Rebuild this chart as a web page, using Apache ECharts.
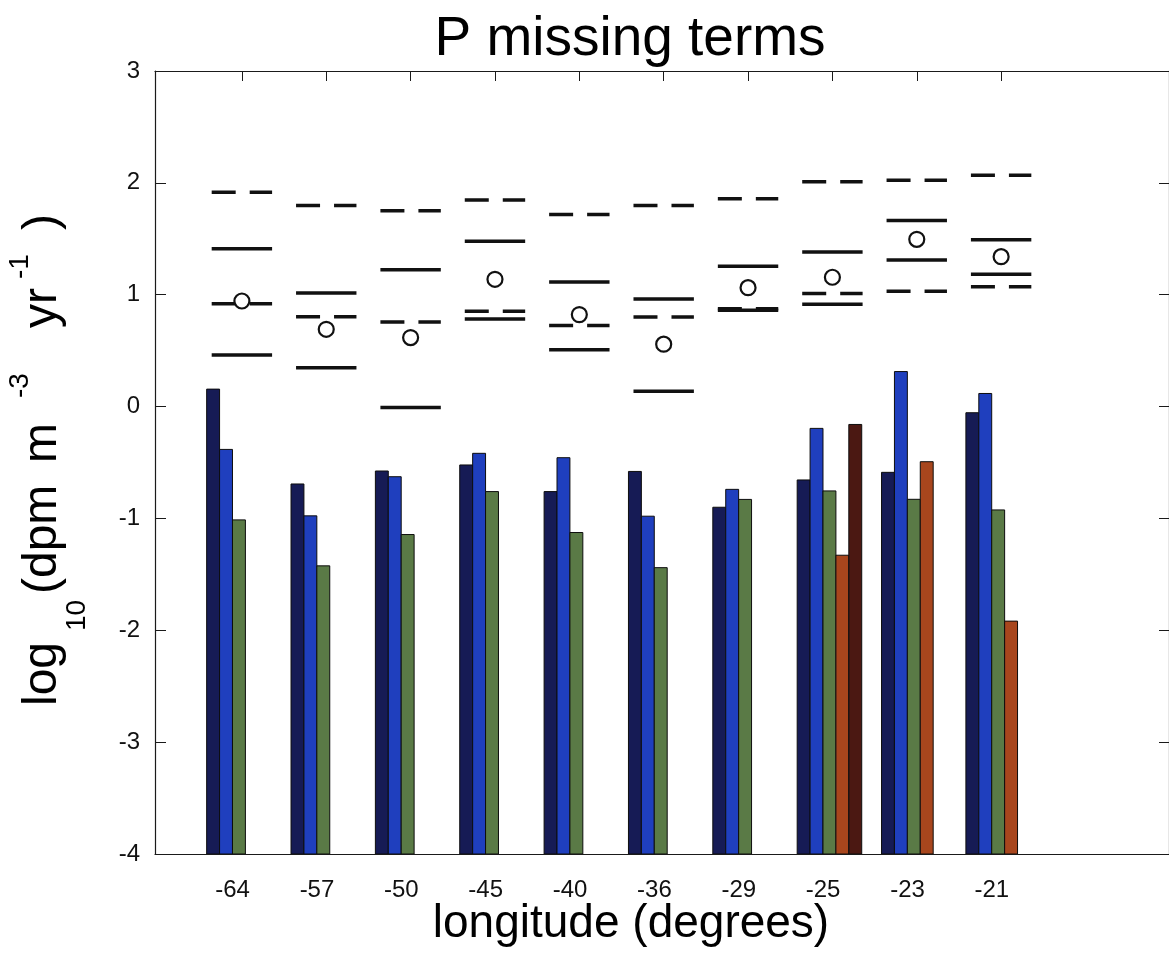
<!DOCTYPE html>
<html>
<head>
<meta charset="utf-8">
<script src="https://cdn.jsdelivr.net/npm/echarts@6/dist/echarts.min.js"></script>
<style>
  html, body { margin: 0; padding: 0; background: #ffffff; }
  #chart { width: 1169px; height: 967px; }
</style>
</head>
<body>
<div id="chart"></div>
<script>
// Station longitudes (degrees) and y tick values
const longitudes = ['-64', '-57', '-50', '-45', '-40', '-36', '-29', '-25', '-23', '-21'];
const yTicks = [-4, -3, -2, -1, 0, 1, 2, 3];

// log10 magnitude of each missing term at every station (null = not computed)
const termNavy  = [0.156, -0.692, -0.576, -0.522, -0.760, -0.580, -0.900, -0.656, -0.588, -0.055];
const termBlue  = [-0.383, -0.977, -0.627, -0.418, -0.457, -0.980, -0.740, -0.195, 0.313, 0.117];
const termGreen = [-1.013, -1.424, -1.144, -0.760, -1.126, -1.440, -0.830, -0.754, -0.829, -0.924];
const termRust  = [null, null, null, null, null, null, null, -1.329, -0.493, -1.918];
const termBrown = [null, null, null, null, null, null, null, -0.160, null, null];

// Reference levels drawn above each group
const centralValue = [0.944, 0.691, 0.617, 1.138, 0.822, 0.558, 1.063, 1.156, 1.495, 1.340];
const solidUpper   = [1.411, 1.016, 1.224, 1.477, 1.114, 0.962, 1.254, 1.381, 1.664, 1.491];
const solidLower   = [0.462, 0.346, -0.008, 0.784, 0.507, 0.138, 0.862, 0.915, 1.310, 1.182];
const dashedUpper  = [1.917, 1.798, 1.750, 1.846, 1.718, 1.798, 1.857, 2.009, 2.024, 2.069];
const dashedLower  = [0.920, 0.804, 0.757, 0.852, 0.724, 0.801, 0.874, 1.010, 1.030, 1.072];

// ---- layout / style constants ----
const Y_MIN = -4, Y_MAX = 3;
const X_MIN = 0.08, X_MAX = 12.1;
const SLOT = 0.153;          // width of one bar, in x units
const GROUP_START = -0.3075; // left edge of first bar relative to the station
const MARK_SHIFT = 0.11;     // level markers sit slightly right of the station
const MARK_HALF = 0.358;     // half length of a level marker
const barColors = ['#161b55', '#1f3fbe', '#5a7a46', '#a8461d', '#4b1812'];
const FONT = '"Liberation Sans", Arial, Helvetica, sans-serif';

const positions = longitudes.map((_, i) => i + 1);

function barSeries(values, slotIndex, color) {
  const data = [];
  values.forEach((v, i) => { if (v !== null) data.push([positions[i], v]); });
  return {
    type: 'custom',
    xAxisIndex: 0, yAxisIndex: 0,
    z: 2,
    clip: true,
    data: data,
    renderItem: function (params, api) {
      const x0 = api.value(0) + GROUP_START + slotIndex * SLOT;
      const p1 = api.coord([x0, api.value(1)]);
      const p2 = api.coord([x0 + SLOT, Y_MIN]);
      return {
        type: 'rect',
        shape: { x: p1[0], y: p1[1], width: p2[0] - p1[0], height: p2[1] - p1[1] },
        style: { fill: color, stroke: '#0d0d0d', lineWidth: 1 }
      };
    }
  };
}

function levelSeries(values, dashed) {
  return {
    type: 'custom',
    xAxisIndex: 0, yAxisIndex: 0,
    z: 3,
    data: values.map((v, i) => [positions[i], v]),
    renderItem: function (params, api) {
      const c = api.value(0) + MARK_SHIFT;
      const a = api.coord([c - MARK_HALF, api.value(1)]);
      const b = api.coord([c + MARK_HALF, api.value(1)]);
      return {
        type: 'line',
        shape: { x1: a[0], y1: a[1], x2: b[0], y2: b[1] },
        style: { stroke: '#111111', lineWidth: 3.5, lineDash: dashed ? [24, 14] : null }
      };
    }
  };
}

// Rotated y-axis title, assembled from pieces so sub/superscripts sit on their own baselines
function yTitlePiece(text, size, midX, startY) {
  return {
    type: 'text', x: midX, y: startY, rotation: Math.PI / 2, z: 10,
    style: { text: text, font: size + 'px ' + FONT, fill: '#000', align: 'left', verticalAlign: 'middle' }
  };
}
const yTitle = [
  yTitlePiece('log', 48, 42.5, 706),
  yTitlePiece('10', 28, 77.5, 631),
  yTitlePiece('(dpm', 48, 42.5, 594),
  yTitlePiece('m', 48, 42.5, 463),
  yTitlePiece('-3', 28, 20.5, 398),
  yTitlePiece('yr', 48, 42.5, 328),
  yTitlePiece('-1', 28, 20.5, 279),
  yTitlePiece(')', 48, 42.5, 230)
];

const chart = echarts.init(document.getElementById('chart'), null, { renderer: 'canvas' });

const axisLineStyle = { color: '#1a1a1a', width: 1.2 };

chart.setOption({
  animation: false,
  backgroundColor: '#ffffff',
  grid: { left: 155, top: 71, width: 1017, height: 783, containLabel: false },
  xAxis: [
    {
      type: 'value', min: X_MIN, max: X_MAX, position: 'bottom',
      axisLine: { show: true, onZero: false, lineStyle: axisLineStyle },
      axisTick: { show: true, inside: true, length: 9, customValues: positions, lineStyle: { color: '#555' } },
      axisLabel: {
        show: true, customValues: positions, margin: 24,
        fontSize: 24, fontFamily: FONT, color: '#111',
        formatter: v => longitudes[Math.round(v) - 1]
      },
      splitLine: { show: false }
    },
    {
      type: 'value', min: X_MIN, max: X_MAX, position: 'top',
      axisLine: { show: true, onZero: false, lineStyle: axisLineStyle },
      axisTick: { show: true, inside: true, length: 10, customValues: positions.map(p => p + MARK_SHIFT), lineStyle: { color: '#1a1a1a' } },
      axisLabel: { show: false },
      splitLine: { show: false }
    }
  ],
  yAxis: [
    {
      type: 'value', min: Y_MIN, max: Y_MAX, interval: 1, position: 'left',
      axisLine: { show: true, onZero: false, lineStyle: axisLineStyle },
      axisTick: { show: true, inside: true, length: 11, lineStyle: { color: '#1a1a1a' } },
      axisLabel: { show: true, margin: 15, fontSize: 24, fontFamily: FONT, color: '#111',
        formatter: v => (yTicks.indexOf(v) >= 0 ? String(v) : '') },
      splitLine: { show: false }
    },
    {
      type: 'value', min: Y_MIN, max: Y_MAX, interval: 1, position: 'right',
      axisLine: { show: true, onZero: false, lineStyle: axisLineStyle },
      axisTick: { show: true, inside: true, length: 10, lineStyle: { color: '#1a1a1a' } },
      axisLabel: { show: false },
      splitLine: { show: false }
    }
  ],
  graphic: [
    {
      type: 'text', x: 630, y: 40, z: 10,
      style: { text: 'P missing terms', font: '55px ' + FONT, fill: '#000', align: 'center', verticalAlign: 'middle' }
    },
    {
      type: 'text', x: 631, y: 924, z: 10,
      style: { text: 'longitude (degrees)', font: '46px ' + FONT, fill: '#000', align: 'center', verticalAlign: 'middle' }
    }
  ].concat(yTitle),
  series: [
    barSeries(termNavy, 0, barColors[0]),
    barSeries(termBlue, 1, barColors[1]),
    barSeries(termGreen, 2, barColors[2]),
    barSeries(termRust, 3, barColors[3]),
    barSeries(termBrown, 4, barColors[4]),
    levelSeries(dashedUpper, true),
    levelSeries(dashedLower, true),
    levelSeries(solidUpper, false),
    levelSeries(solidLower, false),
    {
      type: 'scatter',
      xAxisIndex: 0, yAxisIndex: 0,
      z: 4,
      symbol: 'circle',
      symbolSize: 15,
      itemStyle: { color: '#ffffff', borderColor: '#111111', borderWidth: 2.2, opacity: 1 },
      data: centralValue.map((v, i) => [positions[i] + MARK_SHIFT, v])
    }
  ]
});
</script>
</body>
</html>
